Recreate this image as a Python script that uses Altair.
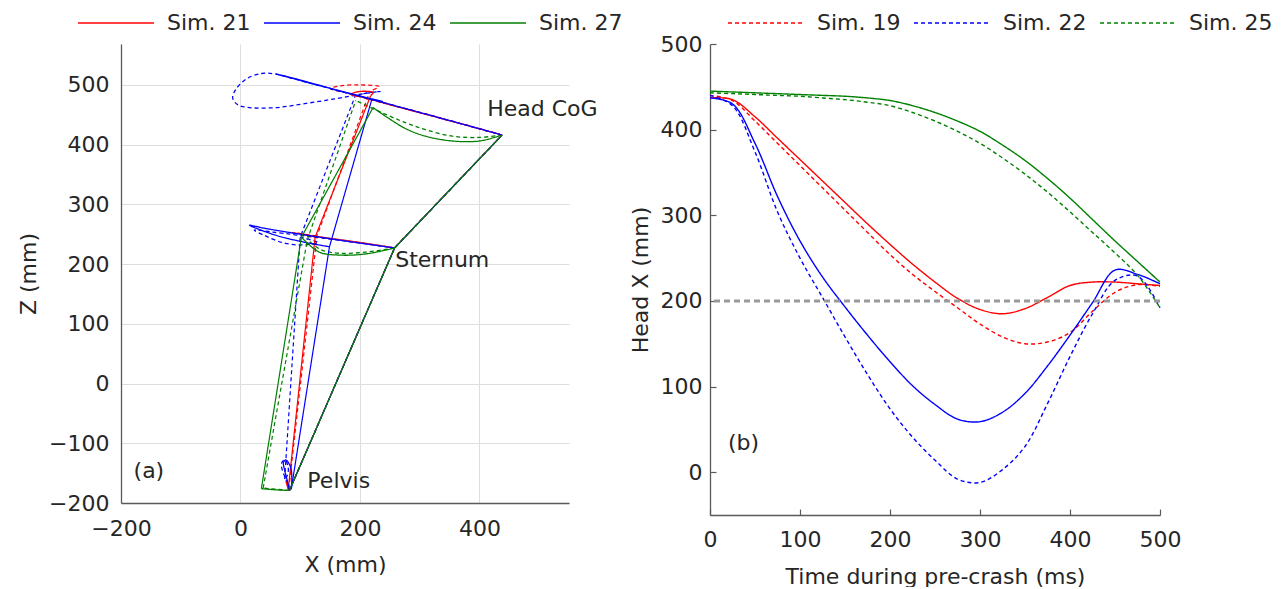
import altair as alt
import pandas as pd

FONT = "DejaVu Sans"
TXT = "#262626"
AXC = "#5a5a5a"

# ---------------- simulations ----------------
SIMS = ["Sim. 19", "Sim. 21", "Sim. 22", "Sim. 24", "Sim. 25", "Sim. 27"]
SIM_COLORS = ["#ff0000", "#ff0000", "#0000ff", "#0000ff", "#008000", "#008000"]
SIM_STYLE = ["dashed", "solid", "dashed", "solid", "dashed", "solid"]
DRAW_ORDER = ["Sim. 19", "Sim. 22", "Sim. 25", "Sim. 21", "Sim. 24", "Sim. 27"]
LEFT_LEGEND_SIMS = ["Sim. 21", "Sim. 24", "Sim. 27"]
RIGHT_LEGEND_SIMS = ["Sim. 19", "Sim. 22", "Sim. 25"]

# ---------------- panel (b): head X over time ----------------
TIME_MS = [0, 25, 50, 75, 100, 125, 150, 175, 200, 225, 250, 275, 300, 325, 350, 375, 400, 425, 450, 475, 500]
HEAD_X_SIM19 = [440, 434, 410, 384, 358, 332, 306, 280, 254, 231, 211, 192, 173, 158, 150, 152, 163, 188, 210, 219, 217]
HEAD_X_SIM21 = [437, 435, 415, 390, 365, 340, 315, 290, 266, 243, 222, 203, 190, 185, 191, 204, 218, 222, 222, 220, 218]
HEAD_X_SIM22 = [440, 428, 374, 304, 250, 204, 158, 114, 74, 41, 14, -8, -12, 3, 30, 80, 135, 185, 224, 229, 192]
HEAD_X_SIM24 = [437, 430, 384, 322, 270, 228, 193, 160, 129, 101, 79, 62, 59, 70, 92, 124, 160, 198, 236, 231, 220]
HEAD_X_SIM25 = [443, 442, 441, 440, 439, 437, 435, 432, 428, 420, 410, 398, 384, 367, 348, 327, 304, 280, 256, 230, 192]
HEAD_X_SIM27 = [445, 444, 443, 442, 441, 440, 439, 437, 434, 428, 420, 410, 398, 382, 364, 343, 320, 295, 270, 246, 222]
THRESHOLD_X = 200

# ---------------- panel (a): X-Z trajectories ----------------
# initial posture (pelvis, sternum, head) shared by all simulations
INITIAL_X = [82, 258, 438]
INITIAL_Z = [-179, 227, 416]

# final posture (pelvis, sternum, head)
FINAL_X = {"Sim. 19": [81, 128, 217], "Sim. 21": [80, 125, 218], "Sim. 22": [74, 100, 192],
           "Sim. 24": [85, 149, 220], "Sim. 25": [38, 112, 193], "Sim. 27": [35, 102, 222]}
FINAL_Z = {"Sim. 19": [-176, 247, 490], "Sim. 21": [-177, 245, 482], "Sim. 22": [-160, 245, 481],
           "Sim. 24": [-177, 229, 476], "Sim. 25": [-175, 241, 474], "Sim. 27": [-176, 245, 462]}

HEAD_TRAJ_X = {
    "Sim. 19": [438, 380, 300, 230, 180, 150, 165, 200, 232, 217],
    "Sim. 21": [438, 380, 320, 260, 210, 185, 200, 222, 218],
    "Sim. 22": [438, 340, 240, 150, 90, 60, 35, 10, -8, -13, -5, 15, 60, 110, 160, 205, 234, 210, 192],
    "Sim. 24": [438, 340, 240, 150, 90, 60, 100, 170, 238, 220],
    "Sim. 25": [438, 400, 355, 310, 278, 240, 193],
    "Sim. 27": [438, 400, 355, 310, 278, 245, 222],
}
HEAD_TRAJ_Z = {
    "Sim. 19": [416, 432, 454, 472, 486, 494, 498, 500, 497, 490],
    "Sim. 21": [416, 432, 448, 464, 478, 484, 489, 487, 482],
    "Sim. 22": [416, 443, 470, 494, 510, 518, 519, 510, 492, 478, 467, 462, 462, 469, 477, 485, 489, 486, 481],
    "Sim. 24": [416, 443, 470, 494, 510, 518, 508, 489, 472, 476],
    "Sim. 25": [416, 412, 414, 425, 436, 452, 474],
    "Sim. 27": [416, 406, 406, 414, 426, 446, 462],
}
STERNUM_TRAJ_X = {
    "Sim. 19": [258, 200, 140, 95, 85, 105, 128],
    "Sim. 21": [258, 200, 150, 110, 95, 110, 125],
    "Sim. 22": [258, 180, 100, 50, 23, 40, 70, 100, 130, 100],
    "Sim. 24": [258, 180, 100, 40, 15, 60, 110, 149],
    "Sim. 25": [258, 210, 166, 135, 112],
    "Sim. 27": [258, 210, 166, 132, 102],
}
STERNUM_TRAJ_Z = {
    "Sim. 19": [227, 236, 244, 251, 253, 250, 247],
    "Sim. 21": [227, 236, 243, 249, 252, 249, 245],
    "Sim. 22": [227, 238, 248, 254, 257, 248, 236, 232, 236, 245],
    "Sim. 24": [227, 238, 250, 260, 265, 248, 236, 229],
    "Sim. 25": [227, 220, 218, 224, 241],
    "Sim. 27": [227, 217, 215, 220, 245],
}
PELVIS_TRAJ_X = {
    "Sim. 19": [82, 78, 76, 78, 81],
    "Sim. 21": [82, 79, 77, 78, 80],
    "Sim. 22": [82, 77, 70, 69, 74, 80, 78, 74],
    "Sim. 24": [82, 79, 74, 72, 76, 84, 86, 85],
    "Sim. 25": [82, 60, 38],
    "Sim. 27": [82, 60, 35],
}
PELVIS_TRAJ_Z = {
    "Sim. 19": [-179, -170, -162, -168, -176],
    "Sim. 21": [-179, -172, -165, -170, -177],
    "Sim. 22": [-179, -162, -145, -133, -128, -140, -155, -160],
    "Sim. 24": [-179, -165, -145, -132, -128, -140, -160, -177],
    "Sim. 25": [-179, -177, -175],
    "Sim. 27": [-179, -178, -176],
}

ANNOT_TEXT = ["Head CoG", "Sternum", "Pelvis", "(a)"]
ANNOT_X = [413, 259, 112, -179]
ANNOT_Z = [460, 206, -164, -146]

PANEL_B_TEXT = ["(b)"]
PANEL_B_T = [20]
PANEL_B_HX = [34]

# ---------------- data frames ----------------
style_of = dict(zip(SIMS, SIM_STYLE))

traj_rows = []
for sim in SIMS:
    for part, xd, zd in (("head", HEAD_TRAJ_X, HEAD_TRAJ_Z),
                         ("sternum", STERNUM_TRAJ_X, STERNUM_TRAJ_Z),
                         ("pelvis", PELVIS_TRAJ_X, PELVIS_TRAJ_Z)):
        for k, (x, z) in enumerate(zip(xd[sim], zd[sim])):
            traj_rows.append(dict(sim=sim, style=style_of[sim], path=f"{sim}-{part}", k=k, X=x, Z=z))
traj_df = pd.DataFrame(traj_rows)

post_rows = []
for sim in SIMS:
    for k, (x, z) in enumerate(zip(INITIAL_X, INITIAL_Z)):
        post_rows.append(dict(sim=sim, style=style_of[sim], path=f"{sim}-init", k=k, X=x, Z=z))
    for k, (x, z) in enumerate(zip(FINAL_X[sim], FINAL_Z[sim])):
        post_rows.append(dict(sim=sim, style=style_of[sim], path=f"{sim}-final", k=k, X=x, Z=z))
post_df = pd.DataFrame(post_rows)

series = {"Sim. 19": HEAD_X_SIM19, "Sim. 21": HEAD_X_SIM21, "Sim. 22": HEAD_X_SIM22,
          "Sim. 24": HEAD_X_SIM24, "Sim. 25": HEAD_X_SIM25, "Sim. 27": HEAD_X_SIM27}
time_rows = []
for sim in SIMS:
    for t, v in zip(TIME_MS, series[sim]):
        time_rows.append(dict(sim=sim, style=style_of[sim], t=t, hx=v))
time_df = pd.DataFrame(time_rows)

annot_df = pd.DataFrame({"label": ANNOT_TEXT, "X": ANNOT_X, "Z": ANNOT_Z})
b_df = pd.DataFrame({"label": PANEL_B_TEXT, "t": PANEL_B_T, "hx": PANEL_B_HX})

# ---------------- shared encodings ----------------
color_scale = alt.Scale(domain=SIMS, range=SIM_COLORS)
dash_enc = alt.StrokeDash("style:N", scale=alt.Scale(domain=["solid", "dashed"], range=[[1, 0], [4, 3]]), legend=None)

LEGEND_LINE = "M-2,0H2"   # a horizontal stroke twice as long as the symbol box


def make_legend(values, dx, dy, dash=None):
    kw = dict(values=values, orient="none", legendX=dx, legendY=dy, direction="horizontal",
              title=None, symbolType=LEGEND_LINE, symbolSize=1444, symbolStrokeWidth=1.6,
              labelFont=FONT, labelFontSize=22, labelColor=TXT, columnPadding=9,
              labelOffset=31, columns=3, padding=0)
    if dash is not None:
        kw["symbolDash"] = dash
    return alt.Legend(**kw)


left_legend = make_legend(LEFT_LEGEND_SIMS, -25, -41)
right_legend = make_legend(RIGHT_LEGEND_SIMS, 36, -41, dash=[4, 3])

# ---------------- panel (a) ----------------
# plot area reaches 11 px higher than the Z=550 grid top so that both panels share one top edge
ax_x = alt.X("X:Q", scale=alt.Scale(domain=[-200, 550], nice=False, zero=False),
             axis=alt.Axis(values=[-200, 0, 200, 400], grid=True, gridColor="#dedede", tickSize=0,
                           labelPadding=15, titlePadding=15, labelFlush=False, title="X (mm)"))
ax_z = alt.Y("Z:Q", scale=alt.Scale(domain=[-200, 568.4], nice=False, zero=False),
             axis=alt.Axis(values=list(range(-200, 501, 100)), grid=True, gridColor="#dedede", tickSize=0,
                           labelPadding=12, titlePadding=8, labelFlush=False, title="Z (mm)"))
left_color = alt.Color("sim:N", scale=color_scale, legend=left_legend)

left_layers = []
for sim in DRAW_ORDER:
    left_layers.append(
        alt.Chart(post_df[post_df.sim == sim]).mark_line(strokeWidth=1.2, interpolate="linear").encode(
            x=ax_x, y=ax_z, color=left_color, strokeDash=dash_enc, detail="path:N", order="k:Q"))
    left_layers.append(
        alt.Chart(traj_df[traj_df.sim == sim]).mark_line(strokeWidth=1.3, interpolate="catmull-rom").encode(
            x=ax_x, y=ax_z, color=left_color, strokeDash=dash_enc, detail="path:N", order="k:Q"))
left_layers.append(
    alt.Chart(annot_df).mark_text(align="left", baseline="middle", font=FONT, fontSize=22, color=TXT).encode(
        x=ax_x, y=ax_z, text="label:N"))

left = alt.layer(*left_layers).properties(width=448, height=459)

# ---------------- panel (b) ----------------
t_scale = alt.Scale(domain=[0, 500], nice=False, zero=False)
h_scale = alt.Scale(domain=[-50, 500], nice=False, zero=False)
T_VALS = [0, 100, 200, 300, 400, 500]
H_VALS = [0, 100, 200, 300, 400, 500]

bx = alt.X("t:Q", scale=t_scale,
           axis=alt.Axis(values=T_VALS, grid=False, tickSize=0, labelPadding=14, titlePadding=16,
                         labelFlush=False, title="Time during pre-crash (ms)"))
by = alt.Y("hx:Q", scale=h_scale,
           axis=alt.Axis(values=H_VALS, grid=False, tickSize=0, labelPadding=8, titlePadding=8,
                         labelFlush=False, title="Head X (mm)"))
right_color = alt.Color("sim:N", scale=color_scale, legend=right_legend)

right_lines = alt.Chart(time_df).mark_line(strokeWidth=1.4, interpolate="catmull-rom").encode(
    x=bx, y=by, color=right_color, strokeDash=dash_enc, detail="sim:N")

thr = alt.Chart(pd.DataFrame({"hx": [THRESHOLD_X]})).mark_rule(
    color="#9a9a9a", strokeDash=[6, 4], strokeWidth=3).encode(y=by)

b_text = alt.Chart(b_df).mark_text(align="left", baseline="middle", font=FONT, fontSize=22, color=TXT).encode(
    x=bx, y=by, text="label:N")

right_main = alt.layer(right_lines, thr, b_text)

# inward ticks, drawn by a second set of axes shifted into the plot
tick_layer = alt.Chart(time_df).mark_point(opacity=0).encode(
    x=alt.X("t:Q", scale=t_scale,
            axis=alt.Axis(orient="bottom", offset=-6, tickSize=6, values=T_VALS, labels=False,
                          domain=False, grid=False, title=None, tickColor=AXC, tickWidth=1.2)),
    y=alt.Y("hx:Q", scale=h_scale,
            axis=alt.Axis(orient="left", offset=-6, tickSize=6, values=H_VALS, labels=False,
                          domain=False, grid=False, title=None, tickColor=AXC, tickWidth=1.2)))

right = alt.layer(right_main, tick_layer).resolve_axis(
    x="independent", y="independent").properties(width=450, height=471)

chart = alt.hconcat(left, right, spacing=6).resolve_legend(color="independent").properties(
    padding={"left": 17, "top": 3, "right": 5, "bottom": 0}
).configure_view(stroke=None).configure_axis(
    labelFont=FONT, labelFontSize=22, labelColor=TXT,
    titleFont=FONT, titleFontSize=22, titleColor=TXT, titleFontWeight="normal",
    domainColor=AXC, domainWidth=1.3, tickColor=AXC
).configure_legend(labelFont=FONT)

chart.save("out.html", embed_options={"renderer": "svg", "actions": False})
